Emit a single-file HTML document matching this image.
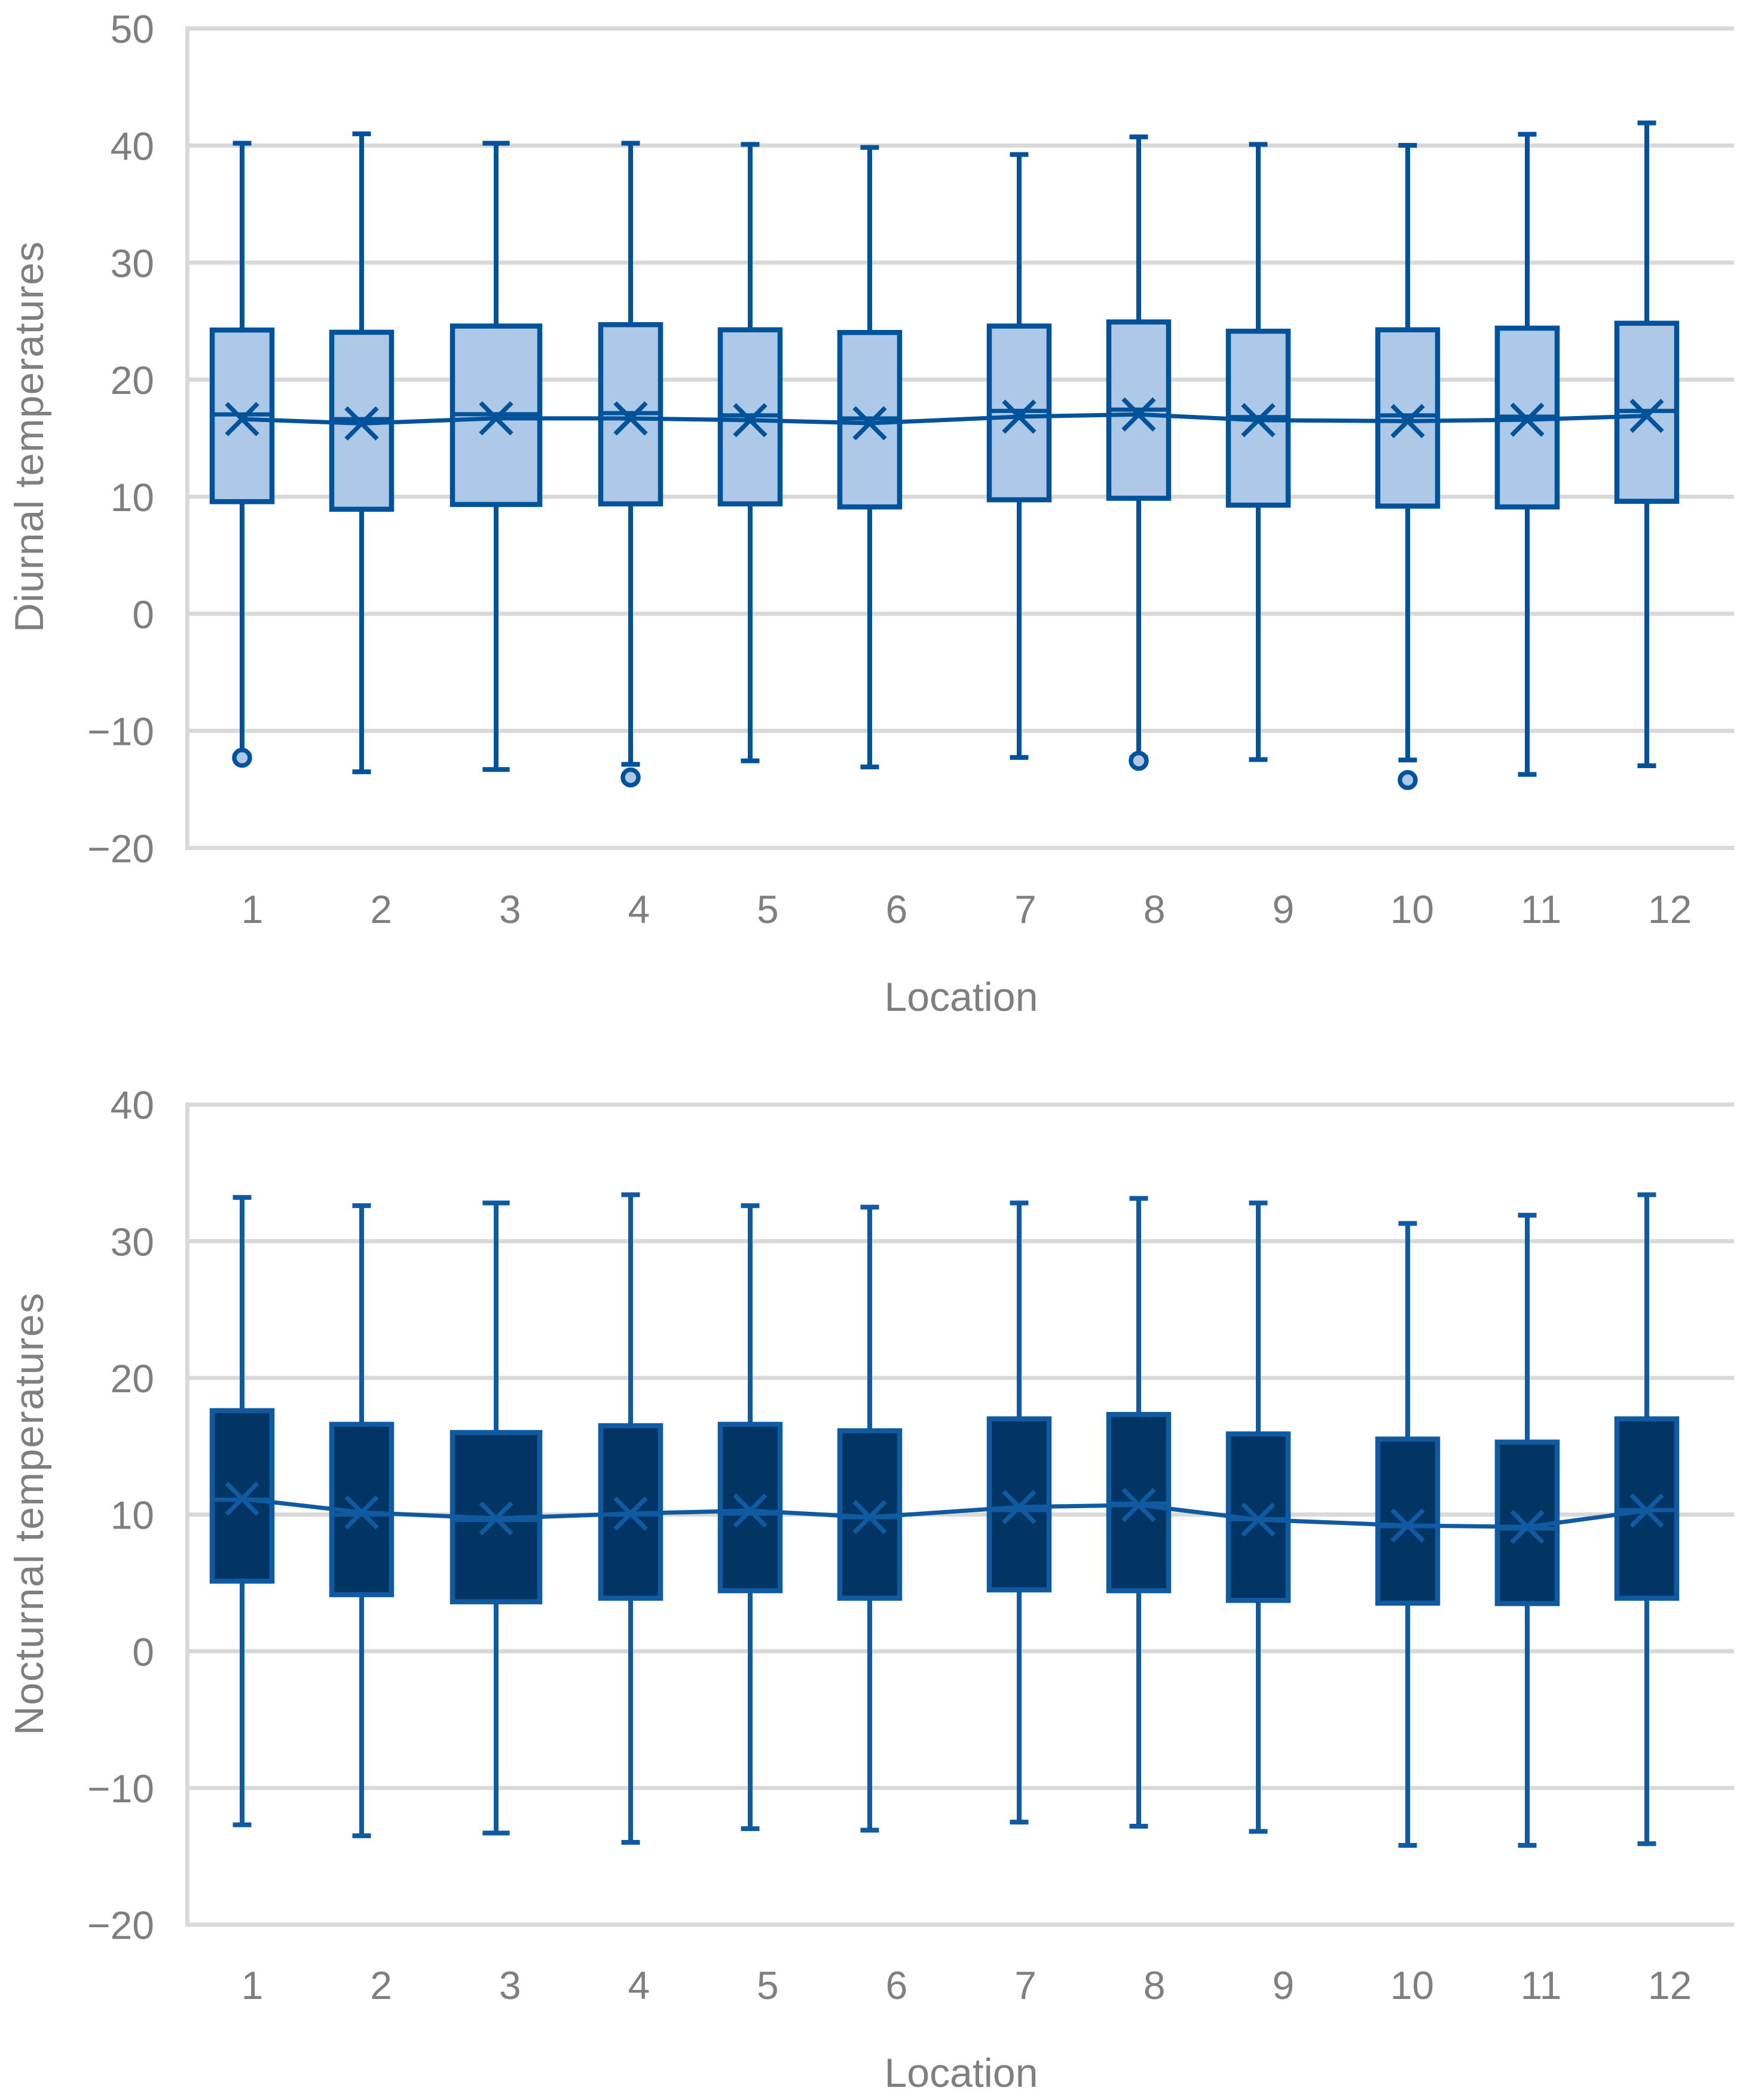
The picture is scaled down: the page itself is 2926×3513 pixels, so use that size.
<!DOCTYPE html>
<html lang="en">
<head>
<meta charset="utf-8">
<title>Diurnal and nocturnal temperatures by location</title>
<style>
html,body{margin:0;padding:0;background:#fff;width:2926px;height:3513px;overflow:hidden}
svg{display:block}
text{font-family:"Liberation Sans",sans-serif;fill:#7f7f7f}
</style>
</head>
<body>
<svg id="figure" xmlns="http://www.w3.org/2000/svg" width="2926" height="3513" viewBox="0 0 2926 3513"></svg>
<script>
// Shared categories and layout values
const categories = ["1","2","3","4","5","6","7","8","9","10","11","12"];
const slotPosition = [0,8,17,26,34,42,52,60,68,78,86,94];
const relativeBoxWidth = [1,1,1.46,1,1,1,1,1,1,1,1,1];

// Diurnal series
const diurnalTicks = [50,40,30,20,10,0,-10,-20];
const diurnalMax = [40.2,41.0,40.2,40.2,40.1,39.84,39.23,40.74,40.1,40.02,40.96,41.93];
const diurnalQ3 = [24.24,24.05,24.58,24.7,24.26,24.03,24.58,24.93,24.14,24.26,24.4,24.82];
const diurnalMedian = [17.03,16.63,17.05,17.14,16.95,16.69,17.33,17.44,16.8,16.95,16.84,17.33];
const diurnalQ1 = [9.58,8.93,9.34,9.39,9.39,9.13,9.74,9.87,9.28,9.2,9.13,9.61];
const diurnalMin = [-12.1,-13.5,-13.3,-12.86,-12.56,-13.08,-12.27,-12.3,-12.45,-12.49,-13.72,-12.98];
const diurnalMean = [16.63,16.26,16.7,16.69,16.54,16.28,16.84,17.03,16.54,16.46,16.58,16.91];
const diurnalOutlier = [-12.3,null,null,-13.98,null,null,null,-12.56,null,-14.2,null,null];

// Nocturnal series
const nocturnalTicks = [40,30,20,10,0,-10,-20];
const nocturnalMax = [33.2,32.6,32.8,33.4,32.6,32.49,32.8,33.13,32.8,31.3,31.9,33.4];
const nocturnalQ3 = [17.6,16.6,16.0,16.5,16.6,16.13,17.0,17.32,15.9,15.52,15.3,17.0];
const nocturnalMedian = [11.09,10.0,9.6,10.0,10.07,9.81,10.33,10.8,9.67,9.15,8.98,10.33];
const nocturnalQ1 = [5.13,4.14,3.62,3.88,4.43,3.88,4.49,4.43,3.72,3.52,3.49,3.88];
const nocturnalMin = [-12.7,-13.5,-13.3,-13.98,-12.98,-13.09,-12.5,-12.8,-13.18,-14.2,-14.2,-14.08];
const nocturnalMean = [11.16,10.16,9.72,10.07,10.29,9.81,10.55,10.7,9.63,9.2,9.1,10.29];
const nocturnalOutlier = [null,null,null,null,null,null,null,null,null,null,null,null];

const svgNS = "http://www.w3.org/2000/svg";
const root = document.getElementById("figure");

function make(tag, parent, attrs) {
  const el = document.createElementNS(svgNS, tag);
  for (const k in attrs) el.setAttribute(k, attrs[k]);
  parent.appendChild(el);
  return el;
}

function xScale(slot) { return 405 + 25 * slot; }

function drawChart(cfg) {
  const yScale = function (v) { return cfg.zeroY - cfg.unit * v; };
  const key = cfg.key;
  const chart = make("g", root, {});
  
  

  // Gridlines and tick labels
  cfg.ticks.forEach(function (t) {
    const grid = make("line", chart, {x1: 314, x2: 2901, y1: yScale(t), y2: yScale(t), stroke: "#d9d9d9", "stroke-width": 7});
    
    
    const label = make("text", chart, {x: 258, y: yScale(t) + 24, "text-anchor": "end", "font-size": 66});
    
    
    label.textContent = t < 0 ? "\u2212" + Math.abs(t) : String(t);
  });
  const yAxis = make("line", chart, {
    x1: 313.5, x2: 313.5,
    y1: yScale(cfg.ticks[0]) - 3.5,
    y2: yScale(cfg.ticks[cfg.ticks.length - 1]) + 3.5,
    stroke: "#d9d9d9", "stroke-width": 7
  });
  
  

  // Category labels
  categories.forEach(function (c, i) {
    const label = make("text", chart, {x: 422 + 215.6 * i, y: cfg.labelBaseline, "text-anchor": "middle", "font-size": 66});
    
    
    label.textContent = c;
  });

  // Axis titles
  const xTitle = make("text", chart, {x: 1608, y: cfg.titleBaseline, "text-anchor": "middle", "font-size": 68});
  
  
  xTitle.textContent = "Location";

  const yTitle = make("text", chart, {
    transform: "translate(72 " + cfg.yTitleBottom + ") rotate(-90)",
    x: 0, y: 0, "font-size": 68,
    textLength: cfg.yTitleLength, lengthAdjust: "spacing"
  });
  
  
  yTitle.textContent = cfg.title;

  // Boxes and whiskers
  categories.forEach(function (c, i) {
    const cx = xScale(slotPosition[i]);
    const w = 100 * relativeBoxWidth[i];
    const capW = 31 * relativeBoxWidth[i];

    const whisker = make("line", chart, {x1: cx, x2: cx, y1: yScale(cfg.max[i]), y2: yScale(cfg.min[i]), stroke: cfg.stroke, "stroke-width": 8});
    
    

    [cfg.max[i], cfg.min[i]].forEach(function (v) {
      const cap = make("line", chart, {x1: cx - capW / 2, x2: cx + capW / 2, y1: yScale(v), y2: yScale(v), stroke: cfg.stroke, "stroke-width": 8});
      
      
    });

    const box = make("rect", chart, {
      x: cx - w / 2, y: yScale(cfg.q3[i]), width: w,
      height: yScale(cfg.q1[i]) - yScale(cfg.q3[i]),
      fill: cfg.fill, stroke: cfg.stroke, "stroke-width": 8.5
    });
    
    

    const median = make("line", chart, {x1: cx - w / 2, x2: cx + w / 2, y1: yScale(cfg.median[i]), y2: yScale(cfg.median[i]), stroke: cfg.stroke, "stroke-width": 7});
    
    

    if (cfg.outlier[i] !== null) {
      const dot = make("circle", chart, {cx: cx, cy: yScale(cfg.outlier[i]), r: 13, fill: cfg.fill, stroke: cfg.stroke, "stroke-width": 7.5});
      
      
    }
  });

  // Mean line
  const meanPoints = cfg.mean.map(function (v, i) { return xScale(slotPosition[i]) + "," + yScale(v); }).join(" ");
  const meanLine = make("polyline", chart, {points: meanPoints, fill: "none", stroke: cfg.stroke, "stroke-width": 7, "stroke-linejoin": "round"});
  
  

  // Mean markers
  cfg.mean.forEach(function (v, i) {
    const cx = xScale(slotPosition[i]);
    const cy = yScale(v);
    const h = 26;
    const marker = make("path", chart, {
      d: "M" + (cx - h) + " " + (cy - h) + "L" + (cx + h) + " " + (cy + h) + "M" + (cx - h) + " " + (cy + h) + "L" + (cx + h) + " " + (cy - h),
      fill: "none", stroke: cfg.stroke, "stroke-width": 7.5
    });
    
    
  });
}

drawChart({
  key: "diurnal", title: "Diurnal temperatures",
  ticks: diurnalTicks, max: diurnalMax, q3: diurnalQ3, median: diurnalMedian,
  q1: diurnalQ1, min: diurnalMin, mean: diurnalMean, outlier: diurnalOutlier,
  zeroY: 1026.8, unit: 19.583, labelBaseline: 1544, titleBaseline: 1691,
  yTitleBottom: 1058, yTitleLength: 654,
  stroke: "#00539b", fill: "#aec8e8"
});

drawChart({
  key: "nocturnal", title: "Nocturnal temperatures",
  ticks: nocturnalTicks, max: nocturnalMax, q3: nocturnalQ3, median: nocturnalMedian,
  q1: nocturnalQ1, min: nocturnalMin, mean: nocturnalMean, outlier: nocturnalOutlier,
  zeroY: 2762.3, unit: 22.865, labelBaseline: 3344, titleBaseline: 3491,
  yTitleBottom: 2903, yTitleLength: 740,
  stroke: "#0f5aa0", fill: "#023564"
});
</script>
</body>
</html>
